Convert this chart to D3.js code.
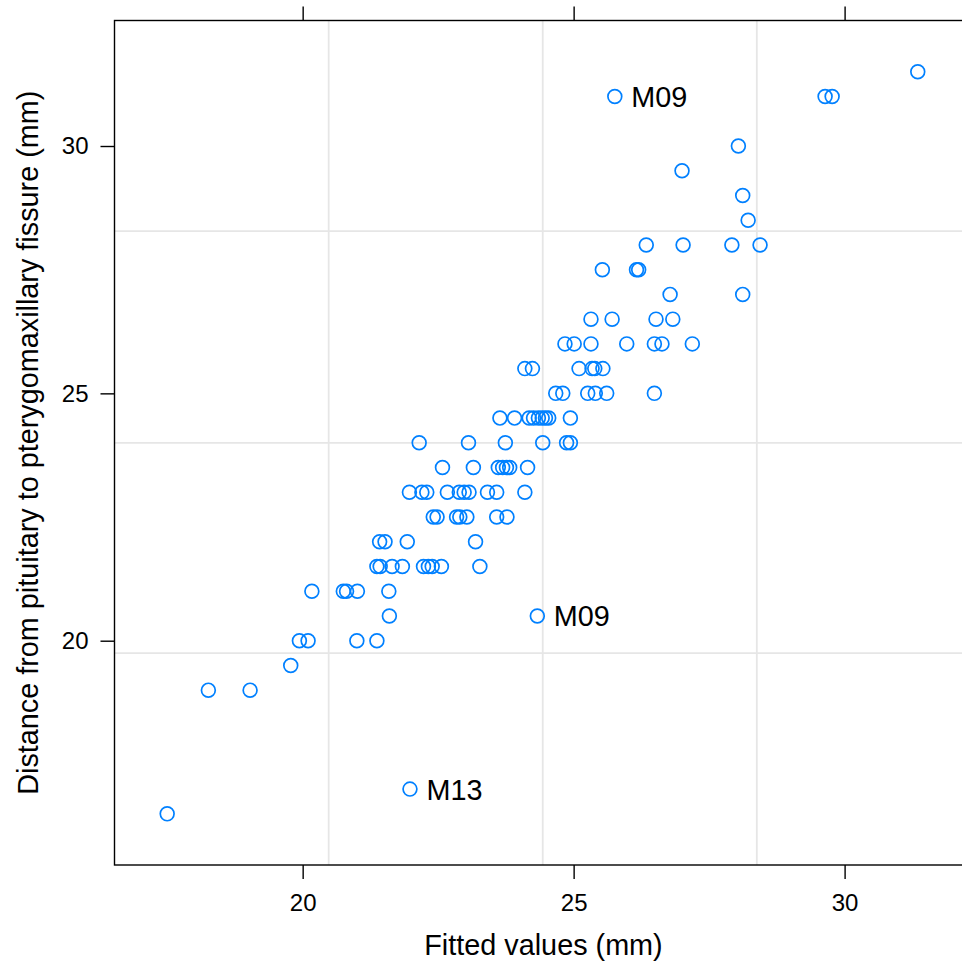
<!DOCTYPE html>
<html>
<head>
<meta charset="utf-8">
<script src="https://cdn.jsdelivr.net/npm/d3@7"></script>
<style>
  body { margin: 0; background: #fff; }
  text { font-family: "Liberation Sans", Arial, Helvetica, sans-serif; }
</style>
</head>
<body>
<div class="scatter"></div>
<script>
// observed distance (mm) and fitted value (mm), one entry per measurement
var observed = [
  31.5,
  31, 31, 31,
  30, 29.5, 29, 28.5,
  28, 28, 28, 28,
  27.5, 27.5, 27.5,
  27, 27,
  26.5, 26.5, 26.5, 26.5,
  26, 26, 26, 26, 26, 26, 26,
  25.5, 25.5, 25.5, 25.5, 25.5, 25.5,
  25, 25, 25, 25, 25, 25,
  24.5, 24.5, 24.5, 24.5, 24.5, 24.5, 24.5, 24.5, 24.5,
  24, 24, 24, 24, 24, 24,
  23.5, 23.5, 23.5, 23.5, 23.5, 23.5, 23.5,
  23, 23, 23, 23, 23, 23, 23, 23, 23, 23,
  22.5, 22.5, 22.5, 22.5, 22.5, 22.5, 22.5,
  22, 22, 22, 22,
  21.5, 21.5, 21.5, 21.5, 21.5, 21.5, 21.5, 21.5, 21.5,
  21, 21, 21, 21, 21,
  20.5, 20.5,
  20, 20, 20, 20,
  19.5, 19, 19,
  17, 16.5
];
var fitted = [
  31.35,
  25.76, 29.64, 29.77,
  28.04, 27.00, 28.12, 28.22,
  26.34, 27.02, 27.92, 28.44,
  25.53, 26.16, 26.20,
  26.78, 28.12,
  25.32, 25.71, 26.52, 26.83,
  24.84, 25.01, 25.32, 25.98, 26.49, 26.63, 27.19,
  24.10, 24.24, 25.10, 25.34, 25.39, 25.54,
  24.67, 24.80, 25.26, 25.40, 25.61, 26.49,
  23.64, 23.91, 24.18, 24.26, 24.35, 24.42, 24.48, 24.54, 24.94,
  22.15, 23.06, 23.74, 24.43, 24.87, 24.94,
  22.58, 23.15, 23.61, 23.69, 23.76, 23.82, 24.15,
  21.97, 22.20, 22.29, 22.67, 22.89, 22.98, 23.07, 23.41, 23.58, 24.10,
  22.41, 22.48, 22.84, 22.90, 23.03, 23.58, 23.77,
  21.42, 21.52, 21.93, 23.19,
  21.37, 21.43, 21.65, 21.84, 22.23, 22.32, 22.39, 22.56, 23.27,
  20.17, 20.75, 20.81, 21.01, 21.59,
  21.60, 24.33,
  19.94, 20.10, 21.00, 21.37,
  19.78, 18.26, 19.03,
  21.98, 17.50
];

// points flagged with the subject id
var labelIds = ["M09", "M09", "M13"];
var labelFitted = [25.76, 24.33, 21.98];
var labelObserved = [31, 20.5, 17];

var xTicks = [20, 25, 30];
var yTicks = [20, 25, 30];
// reference grid lines
var xGrid = [20.48, 24.43, 28.38];
var yGrid = [19.75, 24.00, 28.28];

var w = 962;
var h = 964;
var padLeft = 114.5, padTop = 20.5, padRight = 972.5, padBottom = 865;

var svg = d3.select(".scatter")
            .append("svg")
            .attr("width", w)
            .attr("height", h);

var xScale = d3.scaleLinear()
               .domain([16.528, 32.36])
               .range([padLeft, padRight]);
var yScale = d3.scaleLinear()
               .domain([15.466, 32.537])
               .range([padBottom, padTop]);

// grid
svg.append("g").selectAll("line")
   .data(xGrid)
   .enter().append("line")
   .attr("x1", d => xScale(d)).attr("x2", d => xScale(d))
   .attr("y1", padTop).attr("y2", padBottom)
   .attr("stroke", "#e6e6e6")
   .attr("stroke-width", 1.8);
svg.append("g").selectAll("line")
   .data(yGrid)
   .enter().append("line")
   .attr("x1", padLeft).attr("x2", padRight)
   .attr("y1", d => yScale(d)).attr("y2", d => yScale(d))
   .attr("stroke", "#e6e6e6")
   .attr("stroke-width", 1.8);

// points
var points = observed.map(function(d, i) { return {x: fitted[i], y: d}; });
svg.append("g").selectAll("circle")
   .data(points)
   .enter().append("circle")
   .attr("cx", d => xScale(d.x))
   .attr("cy", d => yScale(d.y))
   .attr("r", 6.9)
   .attr("fill", "none")
   .attr("stroke", "#0080ff")
   .attr("stroke-width", 1.7);

// id labels
svg.append("g").selectAll("text")
   .data(labelIds)
   .enter().append("text")
   .attr("x", (d, i) => xScale(labelFitted[i]) + 16.5)
   .attr("y", (d, i) => yScale(labelObserved[i]) + 10.4)
   .style("font-size", "28.8px")
   .attr("fill", "#000")
   .text(d => d);

// panel box
svg.append("rect")
   .attr("x", padLeft).attr("y", padTop)
   .attr("width", padRight - padLeft).attr("height", padBottom - padTop)
   .attr("fill", "none")
   .attr("stroke", "#000")
   .attr("stroke-width", 1.4);

var xAxis = d3.axisBottom(xScale).tickValues(xTicks).tickSize(14).tickPadding(15);
var xAxisTop = d3.axisTop(xScale).tickValues(xTicks).tickSize(14).tickFormat("");
var yAxis = d3.axisLeft(yScale).tickValues(yTicks).tickSize(14).tickPadding(12);

function styleAxis(g) {
  g.select(".domain").remove();
  g.selectAll("line").attr("stroke", "#000").attr("stroke-width", 1.4);
  g.selectAll("text")
   .attr("fill", "#000")
   .style("font-size", "24px")
   .style("font-family", "'Liberation Sans', Arial, sans-serif");
}

svg.append("g")
   .attr("transform", `translate(0,${padBottom})`)
   .call(xAxis).call(styleAxis);
svg.append("g")
   .attr("transform", `translate(0,${padTop})`)
   .call(xAxisTop).call(styleAxis);
svg.append("g")
   .attr("transform", `translate(${padLeft},0)`)
   .call(yAxis).call(styleAxis);

// axis titles
svg.append("text")
   .attr("x", (padLeft + padRight) / 2)
   .attr("y", 955)
   .attr("text-anchor", "middle")
   .style("font-size", "28.8px")
   .text("Fitted values (mm)");
svg.append("text")
   .attr("transform", `translate(38,${(padTop + padBottom) / 2}) rotate(-90)`)
   .attr("text-anchor", "middle")
   .style("font-size", "28.8px")
   .text("Distance from pituitary to pterygomaxillary fissure (mm)");
</script>
</body>
</html>
